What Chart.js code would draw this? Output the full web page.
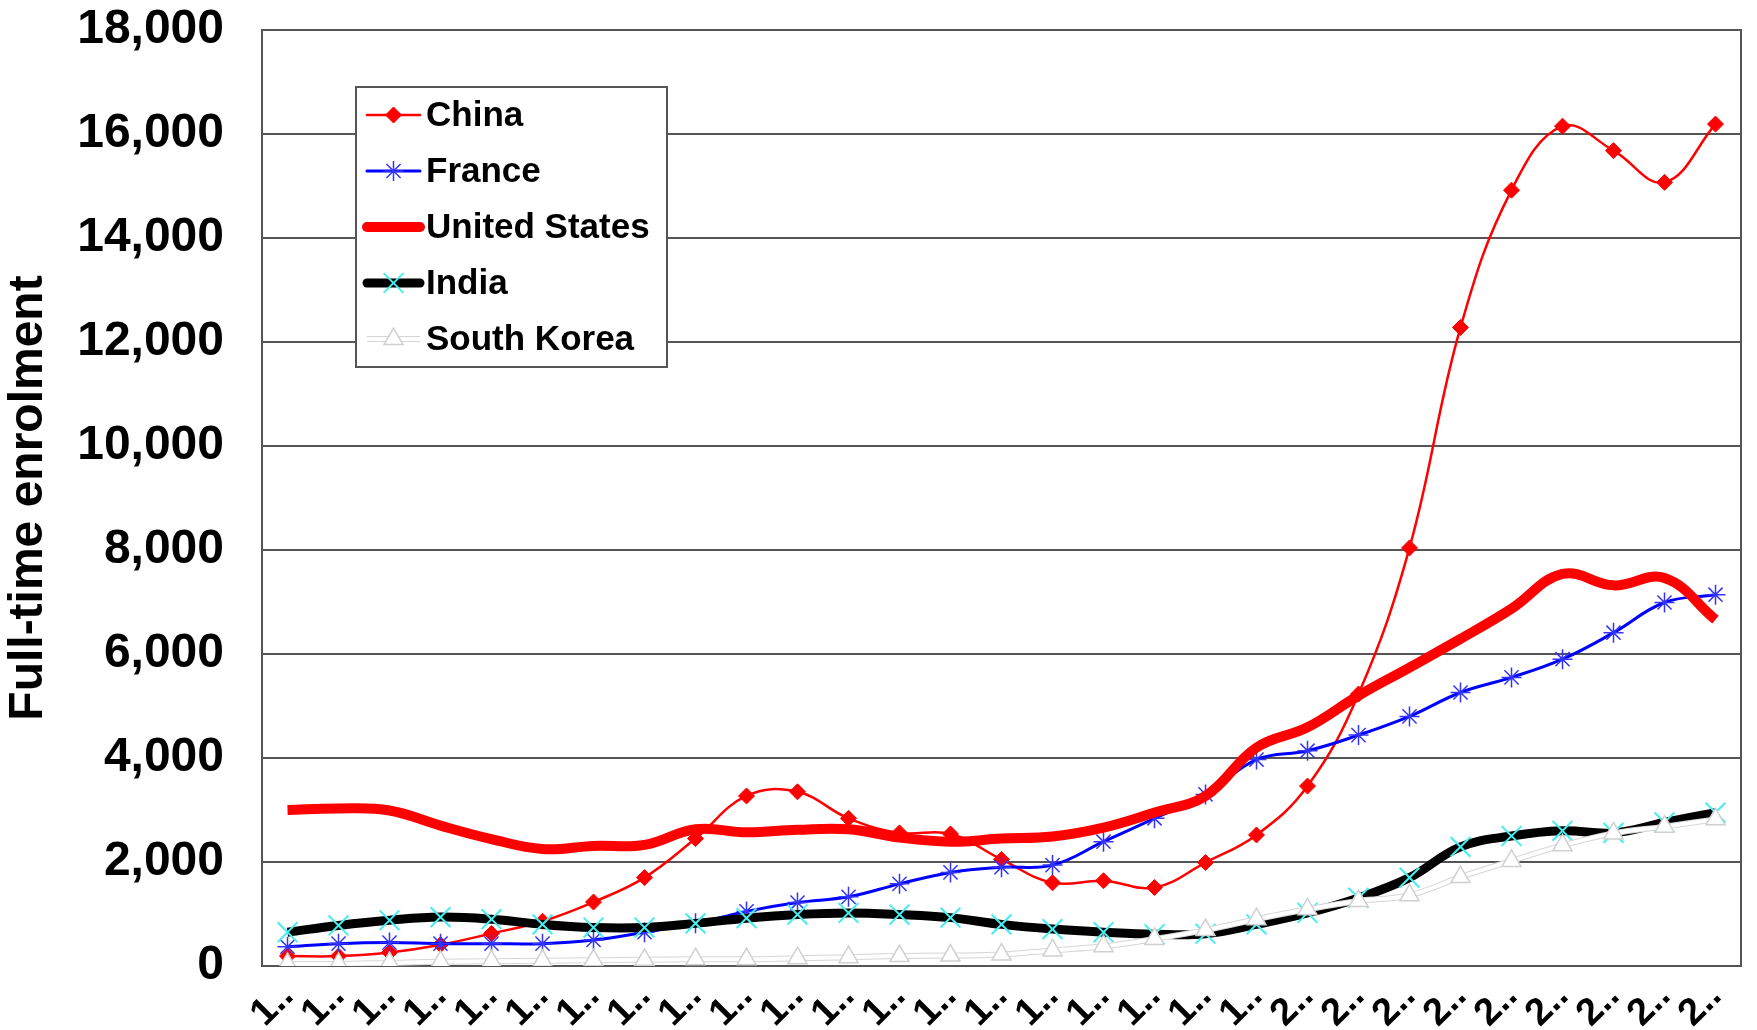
<!DOCTYPE html>
<html>
<head>
<meta charset="utf-8">
<script src="https://cdn.jsdelivr.net/npm/chart.js@4.4.1/dist/chart.umd.min.js"></script>
<style>
  html, body { margin: 0; padding: 0; background: #fff; }
  #wrap { width: 1757px; height: 1030px; }
</style>
</head>
<body>
<div id="wrap"><canvas id="enrolChart" width="1757" height="1030"></canvas></div>
<script>
/* ---- data ---- */
const years = ['1980','1981','1982','1983','1984','1985','1986','1987','1988','1989',
               '1990','1991','1992','1993','1994','1995','1996','1997','1998','1999',
               '2000','2001','2002','2003','2004','2005','2006','2007','2008'];

const china  = [190, 190, 260, 410, 625, 860, 1230, 1700, 2450, 3270,
                3350, 2840, 2560, 2540, 2050, 1600, 1640, 1510, 1990, 2520,
                3460, 5230, 8040, 12280, 14920, 16150, 15680, 15070, 16190];
const france = [370, 430, 450, 430, 430, 430, 500, 650, 820, 1050,
                1220, 1330, 1580, 1800, 1900, 1940, 2390, 2840, 3300, 3970,
                4140, 4440, 4800, 5260, 5550, 5900, 6410, 6990, 7140];
const usa    = [3000, 3030, 2990, 2700, 2440, 2250, 2310, 2330, 2630, 2570,
                2620, 2630, 2470, 2390, 2450, 2490, 2660, 2950, 3270, 4200,
                4590, 5200, 5740, 6290, 6870, 7540, 7320, 7460, 6660];
const india  = [650, 780, 880, 940, 900, 800, 740, 740, 820, 920,
                990, 1020, 990, 930, 800, 710, 650, 610, 620, 800,
                1020, 1310, 1700, 2290, 2500, 2600, 2560, 2760, 2950];
const korea  = [40, 40, 60, 80, 90, 100, 110, 120, 130, 130,
                150, 170, 190, 200, 220, 300, 380, 520, 690, 900,
                1090, 1250, 1360, 1710, 2020, 2320, 2550, 2680, 2820];

const yTicks = [0, 2000, 4000, 6000, 8000, 10000, 12000, 14000, 16000, 18000];

const FONT = "'Liberation Sans', Arial, sans-serif";

/* ---- plot frame + in-chart legend ---- */
const frameBox = {
  id: 'frameBox',
  beforeDatasetsDraw(chart) {
    const { ctx, chartArea: a } = chart;
    ctx.save();
    ctx.strokeStyle = '#555';
    ctx.lineWidth = 2;
    ctx.strokeRect(a.left, a.top, a.right - a.left, a.bottom - a.top);
    ctx.restore();
  }
};

const boxLegend = {
  id: 'boxLegend',
  afterDraw(chart) {
    const ctx = chart.ctx;
    const bx = 356, by = 87, bw = 311, bh = 280;
    ctx.save();
    ctx.fillStyle = '#fff';
    ctx.fillRect(bx, by, bw, bh);
    ctx.strokeStyle = '#555';
    ctx.lineWidth = 2;
    ctx.strokeRect(bx, by, bw, bh);

    const items = chart.data.datasets.filter(d => d.label);
    items.forEach((d, i) => {
      const y = 115 + i * 56;
      const x0 = 367, x1 = 420, xm = (x0 + x1) / 2;

      if (d.legendOutline) {
        ctx.strokeStyle = d.legendOutline;
        ctx.lineWidth = d.borderWidth + 2;
        ctx.beginPath(); ctx.moveTo(x0, y); ctx.lineTo(x1, y); ctx.stroke();
      }
      ctx.strokeStyle = d.borderColor;
      ctx.lineWidth = d.borderWidth;
      ctx.lineCap = 'round';
      ctx.beginPath(); ctx.moveTo(x0, y); ctx.lineTo(x1, y); ctx.stroke();
      ctx.lineCap = 'butt';

      if (d.pointRadius > 0) {
        ctx.fillStyle = d.pointBackgroundColor;
        ctx.strokeStyle = d.pointBorderColor;
        ctx.lineWidth = d.pointBorderWidth;
        Chart.helpers.drawPoint(ctx, {
          pointStyle: d.pointStyle, radius: d.pointRadius,
          borderWidth: d.pointBorderWidth, rotation: 0
        }, xm, y);
      }

      ctx.fillStyle = '#000';
      ctx.font = `bold 35px ${FONT}`;
      ctx.textBaseline = 'middle';
      ctx.textAlign = 'left';
      ctx.fillText(d.label, 426, y + 1);
    });
    ctx.restore();
  }
};

/* ---- chart ---- */
const ctx = document.getElementById('enrolChart');

new Chart(ctx, {
  type: 'line',
  data: {
    labels: years,
    datasets: [
      {
        label: 'China',
        data: china,
        borderColor: '#ff0000',
        borderWidth: 2.5,
        pointStyle: 'rectRot',
        pointRadius: 8,
        pointBackgroundColor: '#ff0000',
        pointBorderColor: '#ff0000',
        pointBorderWidth: 1,
        tension: 0.4,
        order: 6,
      },
      {
        label: 'France',
        data: france,
        borderColor: '#0000ff',
        borderWidth: 3,
        pointStyle: 'star',
        pointRadius: 10,
        pointBackgroundColor: '#0000ff',
        pointBorderColor: '#3333ff',
        pointBorderWidth: 1.5,
        tension: 0.4,
        order: 5,
      },
      {
        label: 'United States',
        data: usa,
        borderColor: '#ff0000',
        borderWidth: 10,
        pointRadius: 0,
        tension: 0.4,
        order: 4,
      },
      {
        label: 'India',
        data: india,
        borderColor: '#000000',
        borderWidth: 9,
        pointStyle: 'crossRot',
        pointRadius: 14,
        pointBackgroundColor: '#44eef0',
        pointBorderColor: '#44eef0',
        pointBorderWidth: 2,
        tension: 0.4,
        order: 3,
      },
      {
        label: 'South Korea',
        data: korea,
        borderColor: '#ffffff',
        legendOutline: '#d6d6d6',
        borderWidth: 4,
        pointStyle: 'triangle',
        pointRadius: 11,
        pointBackgroundColor: '#ffffff',
        pointBorderColor: '#d0d0d0',
        pointBorderWidth: 1.5,
        tension: 0.4,
        order: 1,
      },
      {
        // grey edge under the white South Korea line
        label: '',
        data: korea,
        borderColor: '#d6d6d6',
        borderWidth: 6,
        pointRadius: 0,
        tension: 0.4,
        order: 2,
      },
    ],
  },
  options: {
    responsive: false,
    devicePixelRatio: 1,
    animation: false,
    layout: { padding: { top: 30, right: 12, left: 0, bottom: 0 } },
    plugins: {
      legend: { display: false },
      tooltip: { enabled: false },
    },
    scales: {
      x: {
        offset: true,
        grid: { display: false, drawTicks: false },
        border: { display: false },
        ticks: {
          autoSkip: false,
          minRotation: 45,
          maxRotation: 45,
          padding: 8,
          color: '#000',
          font: { family: FONT, size: 38, weight: 'bold' },
          callback: (v, i) => years[i].charAt(0) + '..',
        },
        afterFit: s => {
          s.height = 64;
          s.paddingLeft = 0;
          s.paddingRight = 0;
        },
      },
      y: {
        min: 0,
        max: 18000,
        afterBuildTicks: s => { s.ticks = yTicks.map(v => ({ value: v })); },
        ticks: {
          padding: 38,
          color: '#000',
          font: { family: FONT, size: 48, weight: 'bold' },
          callback: v => v.toLocaleString('en-US'),
        },
        grid: { color: '#555', lineWidth: 2, drawTicks: false },
        border: { display: true, color: '#555', width: 2 },
        title: {
          display: true,
          text: 'Full-time enrolment',
          color: '#000',
          padding: 0,
          font: { family: FONT, size: 48, weight: 'bold' },
        },
        afterFit: s => {
          s.width = 262;
          s.paddingTop = 0;
          s.paddingBottom = 0;
        },
      },
    },
  },
  plugins: [frameBox, boxLegend],
});
</script>
</body>
</html>
